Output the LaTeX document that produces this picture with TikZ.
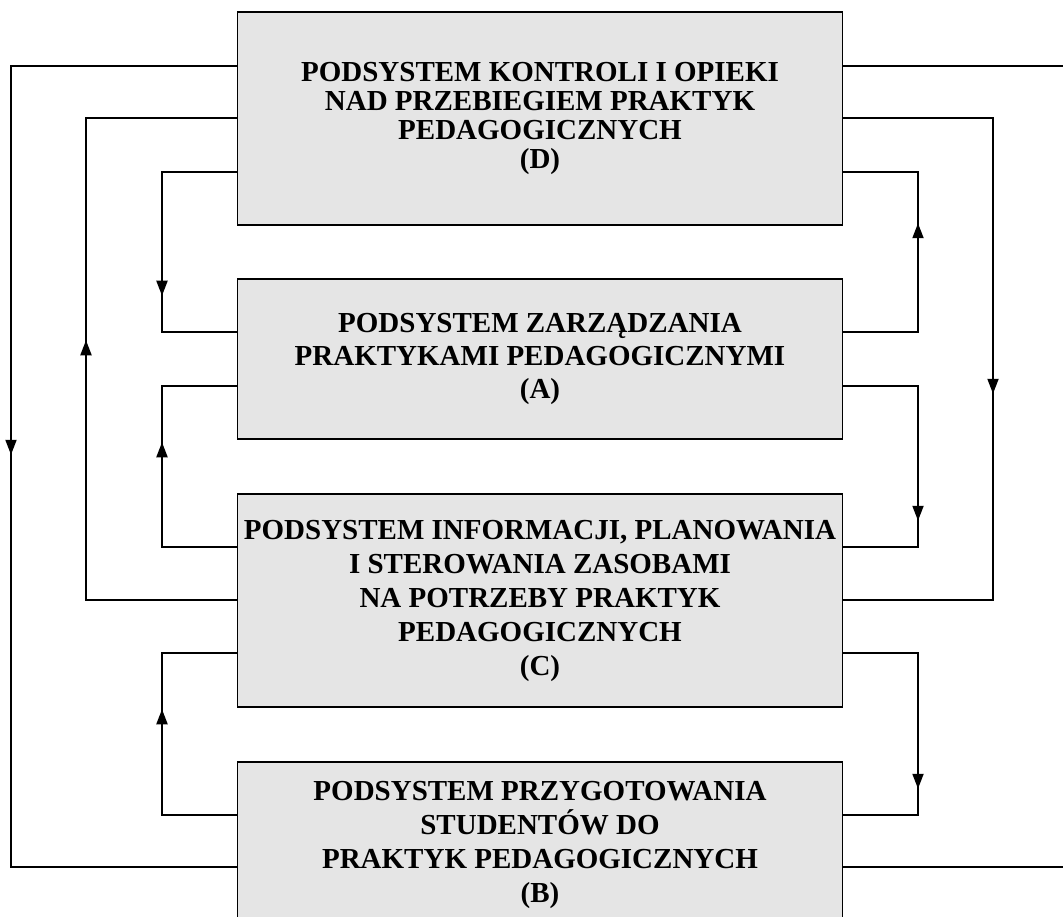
\documentclass[tikz,border=0pt]{standalone}
\usepackage{fontspec}
\setmainfont{Liberation Serif}
\usetikzlibrary{arrows.meta,decorations.markings}
\definecolor{boxgray}{RGB}{229,229,229}
\tikzset{
  sysbox/.style={draw=black, line width=1.5pt, fill=boxgray, inner sep=0pt,
    minimum width=605pt, align=center},
  conn/.style={draw=black, line width=2pt},
  tipat/.style={postaction={decorate}, decoration={markings,
    mark=at position #1 with {\arrow{Triangle[length=15pt,width=11pt]}}}}
}
\begin{document}
\begin{tikzpicture}[x=1pt,y=-1pt]
\useasboundingbox[fill=white] (0,0) rectangle (1063,917);
% boxes
\node[sysbox, minimum height=213pt, font=\bfseries\fontsize{29}{29}\selectfont] (D) at (540,118.5)
  {PODSYSTEM KONTROLI I OPIEKI\\NAD PRZEBIEGIEM PRAKTYK\\PEDAGOGICZNYCH\\(D)};
\node[sysbox, minimum height=160pt, font=\bfseries\fontsize{29}{33.3}\selectfont] (A) at (540,359)
  {PODSYSTEM ZARZĄDZANIA\\PRAKTYKAMI PEDAGOGICZNYMI\\(A)};
\node[sysbox, minimum height=213pt, font=\bfseries\fontsize{29}{34}\selectfont] (C) at (540,600.5)
  {PODSYSTEM INFORMACJI, PLANOWANIA\\I STEROWANIA ZASOBAMI\\NA POTRZEBY PRAKTYK\\PEDAGOGICZNYCH\\(C)};
\node[sysbox, minimum height=166pt, font=\bfseries\fontsize{29}{34}\selectfont] (B) at (540,845)
  {PODSYSTEM PRZYGOTOWANIA\\STUDENTÓW DO\\PRAKTYK PEDAGOGICZNYCH\\(B)};
% outer loops
\draw[conn, tipat=614.5pt] (D.west |- 0,66) -- (11,66) -- (11,867) -- (B.west |- 0,867);
\draw[conn] (D.east |- 0,66) -- (1090,66) -- (1090,867) -- (B.east |- 0,867);
% second loops
\draw[conn, tipat=410.5pt] (C.west |- 0,600) -- (86,600) -- (86,118) -- (D.west |- 0,118);
\draw[conn, tipat=425.5pt] (D.east |- 0,118) -- (993,118) -- (993,600) -- (C.east |- 0,600);
% inner loops D-A
\draw[conn, tipat=198.5pt] (D.west |- 0,172) -- (162,172) -- (162,332) -- (A.west |- 0,332);
\draw[conn, tipat=183.5pt] (A.east |- 0,332) -- (918,332) -- (918,172) -- (D.east |- 0,172);
% inner loops A-C
\draw[conn, tipat=179.5pt] (C.west |- 0,547) -- (162,547) -- (162,386) -- (A.west |- 0,386);
\draw[conn, tipat=209.5pt] (A.east |- 0,386) -- (918,386) -- (918,547) -- (C.east |- 0,547);
% inner loops C-B
\draw[conn, tipat=180.5pt] (B.west |- 0,815) -- (162,815) -- (162,653) -- (C.west |- 0,653);
\draw[conn, tipat=210.5pt] (C.east |- 0,653) -- (918,653) -- (918,815) -- (B.east |- 0,815);
\end{tikzpicture}
\end{document}
